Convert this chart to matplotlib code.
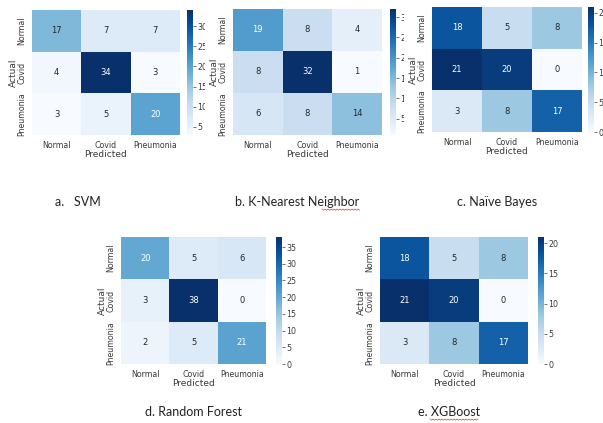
import numpy as np
import matplotlib
matplotlib.use("Agg")
import matplotlib.pyplot as plt
import seaborn as sns
from matplotlib.lines import Line2D

classes = ["Normal", "Covid", "Pneumonia"]
svm = [[17, 7, 7], [4, 34, 3], [3, 5, 20]]
knn = [[19, 8, 4], [8, 32, 1], [6, 8, 14]]
nb = [[18, 5, 8], [21, 20, 0], [3, 8, 17]]
rf = [[20, 5, 6], [3, 38, 0], [2, 5, 21]]
xgb = [[18, 5, 8], [21, 20, 0], [3, 8, 17]]
captions = ["a.   SVM", "b. K-Nearest Neighbor", "c. Naïve Bayes", "d. Random Forest", "e. XGBoost"]

W, H = 603, 423
fig = plt.figure(figsize=(W / 100, H / 100), dpi=100)
fig.patch.set_facecolor("white")

def box(x0, y0, x1, y1):
    return [x0 / W, 1 - y1 / H, (x1 - x0) / W, (y1 - y0) / H]

TXT = "#3a3a3a"

panels = [
    dict(data=svm, bg=(0, 0, 205, 190), hm=(32, 10, 180, 135), cb=(187, 10, 193, 135)),
    dict(data=knn, bg=(205, 0, 404, 190), hm=(233, 9, 382, 135), cb=(390, 9, 396, 135)),
    dict(data=nb, bg=(404, 0, 603, 190), hm=(432, 7, 582, 132), cb=(588, 7, 594, 132)),
    dict(data=rf, bg=(95, 220, 330, 395), hm=(121, 237, 266, 364), cb=(276, 237, 282, 364)),
    dict(data=xgb, bg=(340, 220, 603, 395), hm=(380, 237, 528, 364), cb=(538, 237, 544, 364)),
]

for i, p in enumerate(panels):
    bg = fig.add_axes(box(*p["bg"]), zorder=2 * i + 1)
    bg.set_facecolor("white")
    bg.set_xticks([]); bg.set_yticks([])
    for s in bg.spines.values():
        s.set_visible(False)
    ax = fig.add_axes(box(*p["hm"]), zorder=2 * i + 2)
    cax = fig.add_axes(box(*p["cb"]), zorder=2 * i + 2)
    arr = np.array(p["data"])
    sns.heatmap(arr, annot=True, fmt="d", cmap="Blues", ax=ax, cbar_ax=cax,
                xticklabels=classes, yticklabels=classes,
                annot_kws=dict(fontsize=6))
    ax.tick_params(length=0, labelsize=5.7, labelcolor=TXT, pad=4)
    plt.setp(ax.get_xticklabels(), rotation=0, ha="center")
    plt.setp(ax.get_yticklabels(), rotation=90, va="center")
    ax.set_xlabel("Predicted", fontsize=6.5, color=TXT, labelpad=0)
    ax.set_ylabel("Actual", fontsize=6.5, color=TXT, labelpad=0)
    cax.tick_params(length=2, width=0.5, labelsize=5.7, labelcolor=TXT, color=TXT, pad=1)

cap_font = dict(family=["Lato", "DejaVu Sans"], fontsize=9, color="#222222", zorder=20)
cap_pos = [(55, 202), (235, 202), (457, 202), (145, 412), (418, 412)]
for (x, y), c in zip(cap_pos, captions):
    fig.text(x / W, 1 - y / H, c, ha="left", va="center", **cap_font)

for x0, x1, y in [(322, 359, 209), (430, 478, 419)]:
    xs = np.arange(x0, x1 + 1, 1.5)
    ys = y + np.where(np.arange(len(xs)) % 2 == 0, 0, 1.2)
    fig.add_artist(Line2D(xs / W, 1 - ys / H, color="#d04040", lw=0.5, zorder=21))

fig.savefig("out.png", dpi=100, facecolor="white")
